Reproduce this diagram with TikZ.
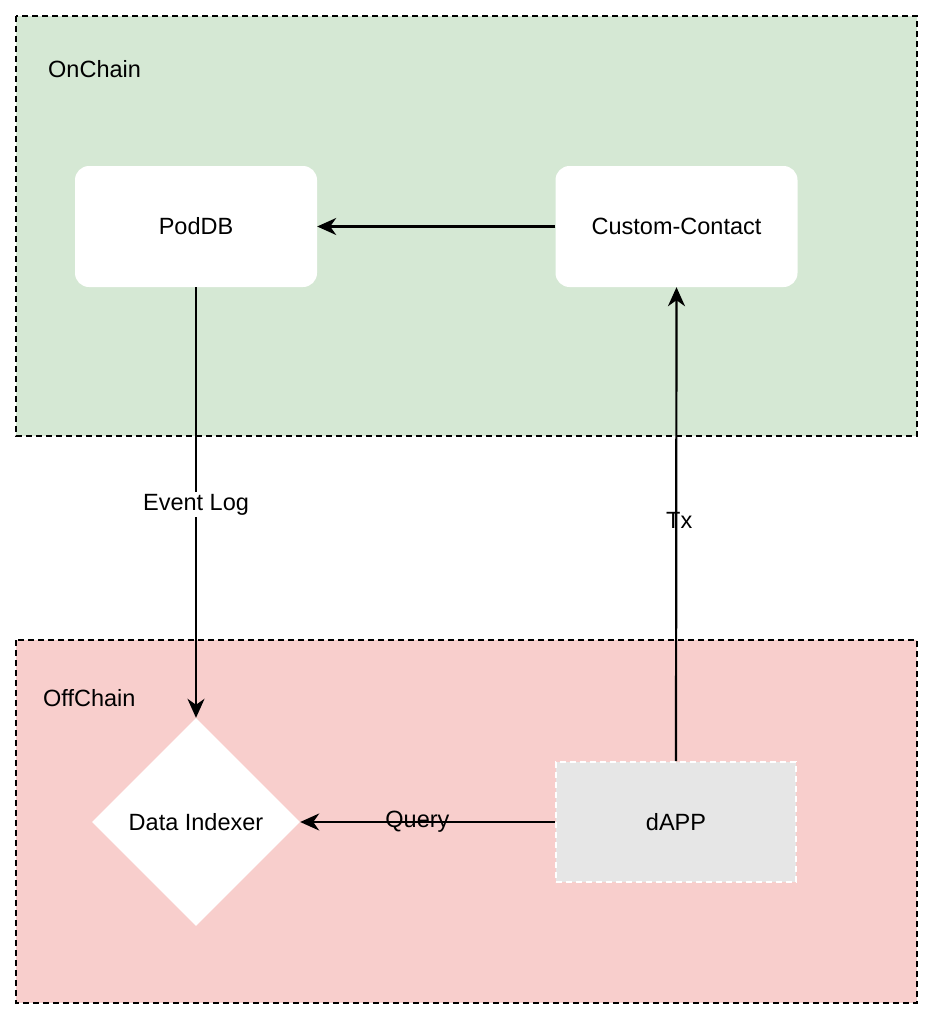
\documentclass[tikz,border=0pt]{standalone}
\usepackage{fontspec}
\setmainfont{Liberation Sans}
\usetikzlibrary{shapes.geometric,arrows.meta}
\definecolor{ongreen}{HTML}{D5E8D4}
\definecolor{offred}{HTML}{F8CECC}
\definecolor{dappgray}{HTML}{E6E6E6}
\begin{document}
\begin{tikzpicture}[x=1pt,y=-1pt,
  font=\fontsize{23.5}{28}\selectfont,
  container/.style={draw=black,dash pattern=on 6pt off 4pt,line width=1.5pt},
  roundbox/.style={draw=none,fill=white,rounded corners=14pt,minimum width=242pt,minimum height=121pt,inner sep=0pt},
  dappbox/.style={draw=white,fill=dappgray,dash pattern=on 6pt off 4pt,line width=2pt,minimum width=240pt,minimum height=120pt,inner sep=0pt},
  idx/.style={diamond,draw=none,fill=white,minimum width=208pt,minimum height=208pt,inner sep=0pt,aspect=1},
  conn/.style={draw=black,line width=2.2pt,-{Stealth[length=19pt,width=17pt,inset=6pt]}},
  lbl/.style={inner sep=2pt}
]
\useasboundingbox (0,0) rectangle (934,1022);
\fill[white] (0,0) rectangle (934,1022);
\draw[container,fill=ongreen] (16,16) rectangle (917,436);
\draw[container,fill=offred] (16,640) rectangle (917,1003);
\node[anchor=west,lbl] (onlbl) at (46,69) {OnChain};
\node[anchor=west,lbl] (offlbl) at (41,698) {OffChain};
\node[roundbox] (pod) at (196,226.5) {PodDB};
\node[roundbox] (cc) at (676.5,226.5) {Custom-Contact};
\node[idx] (di) at (196,822) {Data Indexer};
\node[dappbox] (dapp) at (676,822) {dAPP};
\draw[conn] (cc.west) -- (pod.east);
\draw[conn] (pod.south) -- node[fill=white,lbl,pos=0.505] {Event Log} (di.north);
\draw[conn] (dapp.north) -- node[lbl,pos=0.508,xshift=3pt] {Tx} (cc.south);
\draw[conn] (dapp.west) -- node[lbl,pos=0.54] {Query} (di.east);
\end{tikzpicture}
\end{document}
